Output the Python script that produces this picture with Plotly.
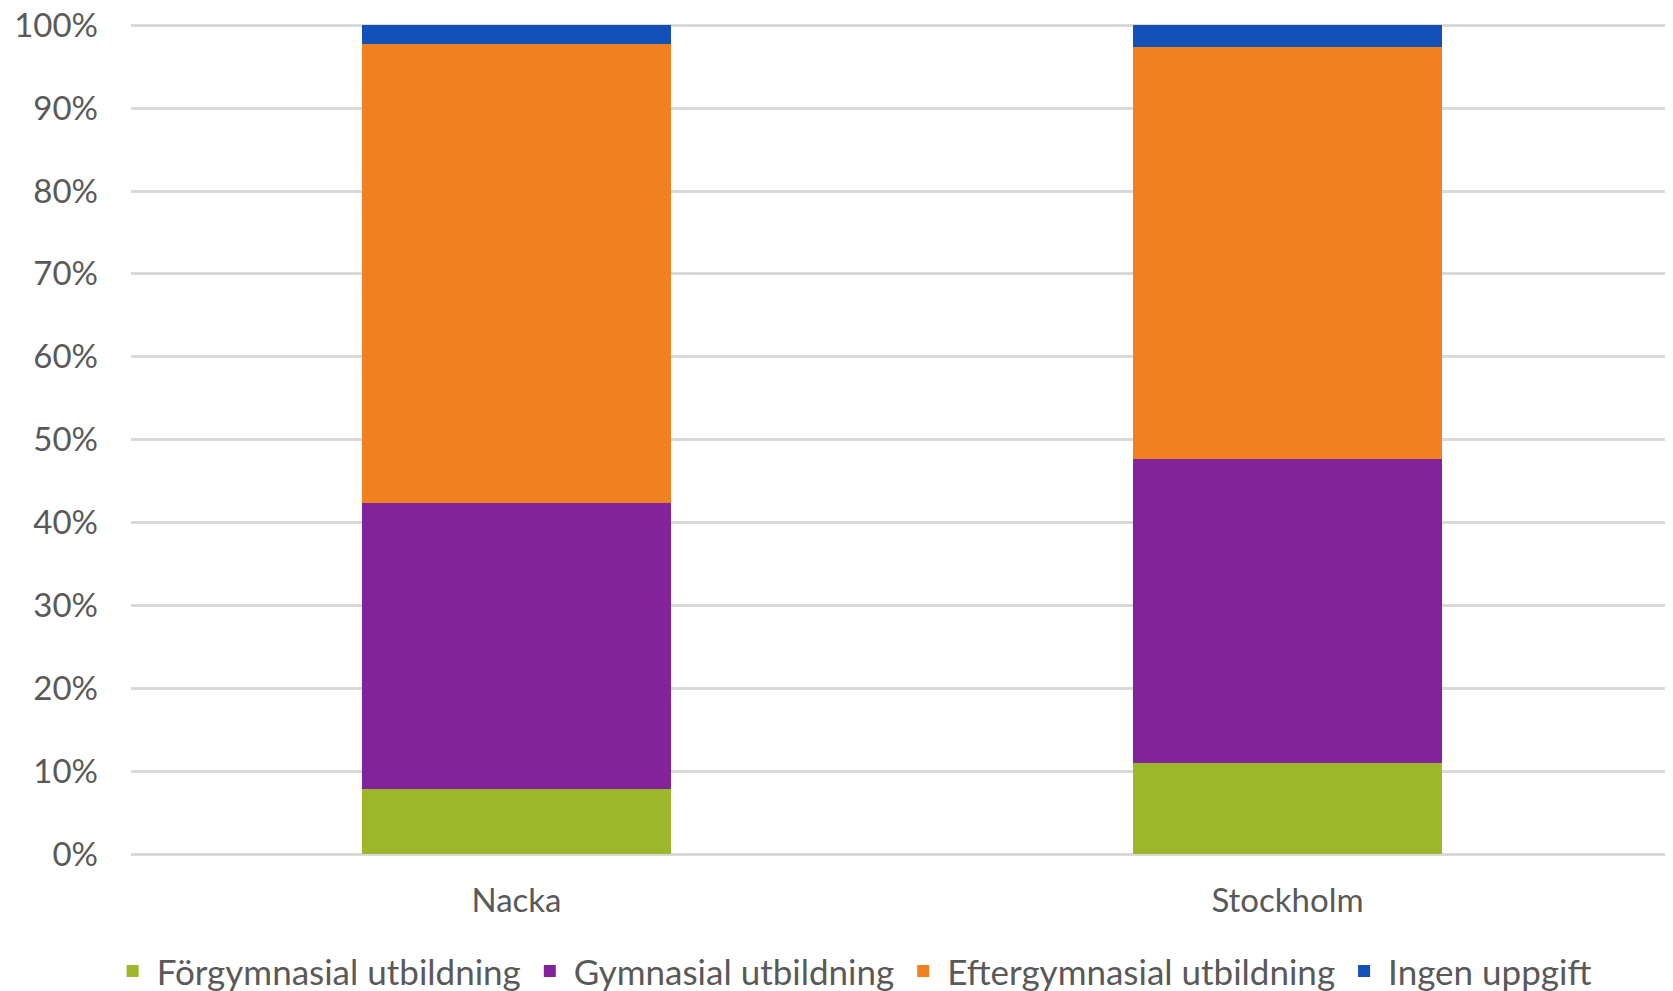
import plotly.graph_objects as go

categories = ["Nacka", "Stockholm"]
series_names = ["Förgymnasial utbildning", "Gymnasial utbildning",
                "Eftergymnasial utbildning", "Ingen uppgift"]
forgymnasial = [0.079, 0.110]
gymnasial = [0.345, 0.367]
eftergymnasial = [0.554, 0.497]
ingen_uppgift = [0.022, 0.026]
tick_vals = [0, 0.1, 0.2, 0.3, 0.4, 0.5, 0.6, 0.7, 0.8, 0.9, 1.0]
tick_text = ["0%", "10%", "20%", "30%", "40%", "50%", "60%", "70%", "80%", "90%", "100%"]

colors = ["#9cb72a", "#83239b", "#ef8120", "#1351b9"]
values = [forgymnasial, gymnasial, eftergymnasial, ingen_uppgift]

FONT = "Lato, 'Open Sans', sans-serif"
TXT = "#595959"
FS = 33

fig = go.Figure()
for name, vals, col in zip(series_names, values, colors):
    fig.add_trace(go.Bar(x=categories, y=vals, name=name,
                         marker=dict(color=col, line=dict(width=0))))

fig.update_layout(
    width=1665, height=983,
    barmode="stack", bargap=0.6,
    paper_bgcolor="white", plot_bgcolor="white",
    margin=dict(l=123, r=0, t=14, b=137, autoexpand=False),
    font=dict(family=FONT, size=FS, color=TXT),
    legend=dict(orientation="h", x=0.468, xanchor="center", y=-0.141, yanchor="middle",
                font=dict(family=FONT, size=35, color=TXT), itemwidth=38,
                traceorder="normal"),
    showlegend=True,
)
fig.update_xaxes(showgrid=False, showline=False, zeroline=False, ticks="", automargin=False,
                 tickfont=dict(family=FONT, size=FS, color=TXT), ticklabelstandoff=24)
fig.update_yaxes(range=[0, 1.004], tickvals=tick_vals, ticktext=tick_text, automargin=False,
                 showgrid=True, gridcolor="#d9d9d9", gridwidth=2.5,
                 zeroline=True, zerolinecolor="#d9d9d9", zerolinewidth=2.5,
                 showline=False, ticks="", ticklabelstandoff=32, ticklabeloverflow="allow",
                 tickfont=dict(family=FONT, size=FS, color=TXT))

fig.write_html("out.html")
